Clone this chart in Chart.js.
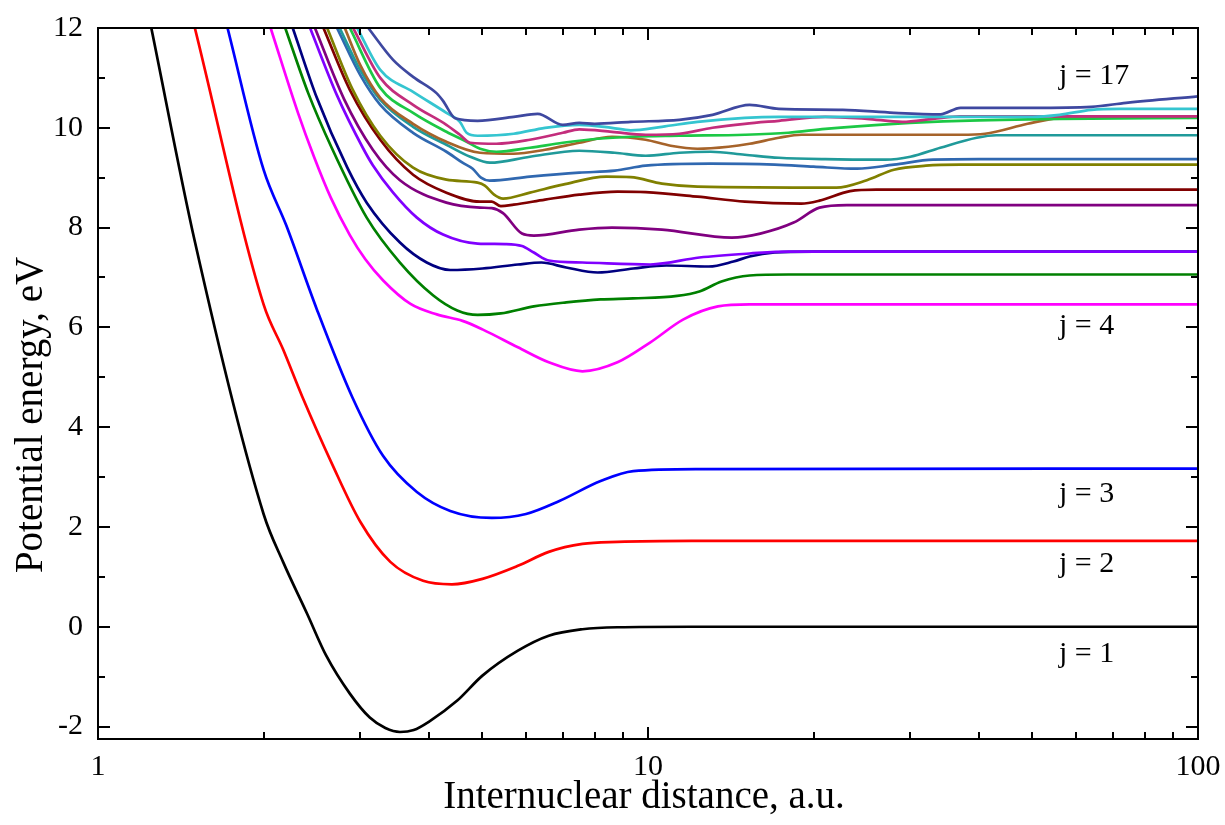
<!DOCTYPE html>
<html>
<head>
<meta charset="utf-8">
<title>Potential energy curves</title>
<script src="https://cdn.jsdelivr.net/npm/chart.js@4.4.1/dist/chart.umd.min.js"></script>
<style>
  html, body { margin: 0; padding: 0; background: #ffffff; }
  #wrap { width: 1225px; height: 825px; }
</style>
</head>
<body>
<div id="wrap"><canvas id="chart" width="1225" height="825"></canvas></div>
<script>
// Potential energy (eV) versus internuclear distance (a.u.), one curve per state j.
// Each curve is a list of [distance, energy] pairs.
const j1 = [[1.25,12],[1.5,7.72],[2.0,2.26],[2.17,1.3],[2.4,0.26],[2.6,-0.58],[2.87,-1.34],[3.12,-1.82],[3.33,-2.03],[3.54,-2.11],[3.75,-2.07],[4.0,-1.9],[4.5,-1.48],[5.0,-0.98],[5.8,-0.48],[6.6,-0.18],[7.6,-0.05],[8.8,-0.01],[12,0],[100,0]];
const j2 = [[1.5,12],[2.0,6.46],[2.17,5.56],[2.35,4.62],[2.67,3.24],[3.0,2.1],[3.4,1.3],[3.9,0.92],[4.4,0.85],[5.0,0.96],[5.8,1.22],[6.6,1.5],[7.6,1.66],[8.8,1.7],[12,1.72],[100,1.72]];
const j3 = [[1.72,12],[2.0,9.16],[2.2,8.04],[2.5,6.36],[2.9,4.6],[3.3,3.42],[3.8,2.7],[4.37,2.32],[5.2,2.18],[6.0,2.26],[6.9,2.52],[8.2,2.92],[9.4,3.12],[12.4,3.16],[100,3.17]];
const j4 = [[2.06,12],[2.31,10.3],[2.47,9.42],[2.65,8.6],[2.87,7.85],[3.06,7.37],[3.3,6.94],[3.7,6.47],[4.13,6.26],[4.6,6.13],[5.0,5.96],[5.8,5.6],[6.6,5.3],[7.6,5.12],[8.8,5.3],[10.1,5.7],[11.6,6.16],[13.4,6.42],[15.3,6.46],[100,6.46]];
const j5 = [[2.19,12],[2.41,10.7],[2.66,9.6],[3.08,8.2],[3.54,7.3],[4.07,6.64],[4.5,6.34],[4.9,6.25],[5.4,6.28],[6.2,6.42],[7.1,6.5],[8.2,6.56],[9.4,6.58],[11.3,6.63],[12.4,6.72],[13.6,6.92],[15.3,7.04],[18,7.06],[100,7.06]];
const j6 = [[2.26,12],[2.5,10.6],[2.84,9.2],[3.08,8.5],[3.54,7.7],[3.96,7.3],[4.37,7.15],[5.0,7.18],[5.8,7.26],[6.4,7.3],[7.1,7.2],[8.1,7.1],[9.4,7.18],[10.8,7.24],[12.9,7.22],[14.3,7.32],[15.3,7.42],[17,7.5],[20,7.52],[100,7.52]];
const j7 = [[2.43,12],[2.72,10.65],[3.03,9.6],[3.16,9.25],[3.44,8.7],[3.8,8.2],[4.24,7.86],[4.9,7.68],[5.5,7.67],[5.9,7.63],[6.2,7.5],[6.6,7.34],[7.6,7.3],[10.1,7.26],[12.4,7.4],[15.3,7.48],[18,7.52],[100,7.52]];
const j8 = [[2.48,12],[2.8,10.58],[3.16,9.56],[3.54,8.95],[4.3,8.5],[4.95,8.4],[5.2,8.39],[5.45,8.29],[5.9,7.88],[6.2,7.84],[7.5,7.96],[8.6,8.0],[10.6,7.96],[14.2,7.8],[16,7.88],[18.4,8.1],[20.5,8.4],[23,8.45],[100,8.45]];
const j9 = [[2.57,12],[2.87,10.76],[3.26,9.76],[3.74,9.06],[4.3,8.7],[4.95,8.52],[5.2,8.52],[5.4,8.43],[5.7,8.46],[6.5,8.56],[7.5,8.66],[8.8,8.72],[9.9,8.71],[12.3,8.62],[15,8.52],[19,8.48],[20.5,8.54],[23.3,8.73],[26,8.76],[100,8.76]];
const j10 = [[2.61,12],[2.9,10.78],[3.26,9.84],[3.74,9.2],[4.3,8.96],[4.9,8.9],[5.05,8.84],[5.25,8.66],[5.45,8.58],[6.1,8.7],[7.0,8.86],[8.4,9.02],[9.3,9.01],[10.6,8.88],[12.3,8.82],[22,8.8],[25,8.95],[28,9.16],[32,9.24],[37,9.26],[100,9.26]];
const j11 = [[2.72,12],[3.0,11.05],[3.26,10.46],[3.74,9.9],[4.3,9.52],[4.6,9.3],[4.8,9.18],[4.97,9.0],[5.15,8.94],[6.1,9.02],[7.5,9.1],[8.7,9.14],[9.9,9.24],[13,9.28],[17,9.26],[20,9.22],[24,9.18],[28,9.26],[33,9.36],[40,9.37],[100,9.37]];
const j12 = [[2.75,12],[3.0,11.15],[3.26,10.56],[3.74,10.02],[4.3,9.66],[4.75,9.42],[5.16,9.3],[6.1,9.42],[7.5,9.54],[8.7,9.5],[9.9,9.44],[11.4,9.5],[13,9.52],[15,9.46],[17.3,9.4],[21,9.37],[27,9.36],[30,9.42],[34,9.6],[39.6,9.8],[43,9.85],[100,9.85]];
const j13 = [[2.81,12],[3.0,11.25],[3.26,10.6],[3.74,10.08],[4.3,9.72],[4.95,9.5],[5.7,9.48],[6.5,9.56],[7.5,9.7],[8.6,9.82],[9.9,9.76],[11,9.64],[12.3,9.58],[14,9.62],[15.3,9.68],[17.3,9.8],[19,9.86],[37,9.86],[41,9.88],[49,10.08],[56,10.2],[65,10.22],[100,10.22]];
const j14 = [[2.87,12],[3.26,10.8],[3.74,10.3],[4.3,9.92],[4.68,9.72],[4.95,9.58],[5.3,9.52],[6.1,9.6],[7.0,9.7],[8.1,9.78],[9.3,9.82],[11.4,9.84],[15,9.86],[18,9.9],[21,9.98],[28,10.08],[37,10.14],[56,10.18],[100,10.2]];
const j15 = [[2.91,12],[3.26,11.0],[3.74,10.46],[4.3,10.06],[4.55,9.86],[4.75,9.7],[5.3,9.68],[6.1,9.76],[7.0,9.9],[7.5,9.97],[8.6,9.92],[9.9,9.86],[11.4,9.88],[13.1,10.0],[15,10.08],[17.3,10.14],[21,10.22],[25,10.18],[29,10.12],[33,10.18],[37,10.23],[100,10.23]];
const j16 = [[2.96,12],[3.26,11.16],[3.74,10.72],[4.3,10.3],[4.55,10.12],[4.68,9.9],[4.9,9.84],[5.7,9.88],[6.5,10.0],[7.5,10.06],[8.6,10.0],[9.3,9.95],[10.6,10.02],[12.3,10.12],[15,10.2],[17.3,10.22],[50,10.22],[56,10.26],[64,10.36],[72,10.38],[100,10.38]];
const j17 = [[3.1,12],[3.44,11.36],[3.74,11.02],[4.13,10.69],[4.24,10.54],[4.46,10.19],[4.9,10.14],[5.7,10.22],[6.3,10.28],[7.0,10.06],[7.5,10.1],[8.0,10.08],[9.3,10.12],[11.4,10.16],[13.1,10.26],[15.3,10.46],[17.3,10.38],[22.6,10.36],[28,10.3],[34,10.27],[37,10.4],[50,10.4],[64,10.42],[74,10.5],[100,10.63]];

const curves = [j1, j2, j3, j4, j5, j6, j7, j8, j9, j10, j11, j12, j13, j14, j15, j16, j17];
const curveNames = ['j = 1','j = 2','j = 3','j = 4','j = 5','j = 6','j = 7','j = 8','j = 9','j = 10','j = 11','j = 12','j = 13','j = 14','j = 15','j = 16','j = 17'];
const curveColors = ['#000000','#ff0000','#0000ff','#ff00ff','#008000','#000080','#8000ff','#800080','#800000','#808000',
                     '#3068b0','#209a9a','#a6632a','#1cc845','#c32d7c','#35c5d0','#3e48a0'];

// Axis ticks
const xTickValues = [1, 10, 100];
const yTickValues = [-2, 0, 2, 4, 6, 8, 10, 12];

// Curve captions on the right-hand side
const noteTexts = ['j = 17', 'j = 4', 'j = 3', 'j = 2', 'j = 1'];

const SERIF = "'Liberation Serif', 'Times New Roman', Times, serif";

// Frame, inward tick marks on all four sides, captions and axis titles
const framePlugin = {
  id: 'frame',
  afterDraw(chart) {
    const { ctx, chartArea: a, scales: { x, y } } = chart;
    ctx.save();
    ctx.strokeStyle = '#000';
    ctx.lineWidth = 2;
    ctx.beginPath();
    // vertical axis ticks, major every 2 eV, minor in between
    for (let v = Math.ceil(y.min); v <= y.max; v++) {
      const py = Math.round(y.getPixelForValue(v));
      const len = v % 2 === 0 ? 12 : 7;
      ctx.moveTo(a.left, py); ctx.lineTo(a.left + len, py);
      ctx.moveTo(a.right, py); ctx.lineTo(a.right - len, py);
    }
    // logarithmic axis ticks, major at decades
    for (const dec of [1, 10]) {
      for (let m = 1; m <= 10; m++) {
        const v = dec * m;
        if (v <= x.min || v >= x.max) continue;
        const px = Math.round(x.getPixelForValue(v));
        const len = m === 1 || m === 10 ? 12 : 7;
        ctx.moveTo(px, a.bottom); ctx.lineTo(px, a.bottom - len);
        ctx.moveTo(px, a.top); ctx.lineTo(px, a.top + len);
      }
    }
    ctx.stroke();
    ctx.strokeRect(a.left, a.top, a.right - a.left, a.bottom - a.top);

    // captions
    ctx.fillStyle = '#000';
    ctx.font = '30px ' + SERIF;
    ctx.textAlign = 'left';
    ctx.textBaseline = 'alphabetic';
    const noteBaselines = [84, 334, 502, 572, 662];
    noteTexts.forEach((t, i) => ctx.fillText(t, a.right - 139, noteBaselines[i]));

    // axis titles
    ctx.font = '39px ' + SERIF;
    ctx.textAlign = 'center';
    ctx.fillText('Internuclear distance, a.u.', (a.left + a.right) / 2 - 4, 808);
    ctx.translate(42, 415);
    ctx.rotate(-Math.PI / 2);
    ctx.fillText('Potential energy, eV', 0, 0);
    ctx.restore();
  }
};

const n = curves.length;
new Chart(document.getElementById('chart').getContext('2d'), {
  type: 'line',
  data: {
    datasets: curves.map((pts, i) => ({
      label: curveNames[i],
      data: pts.map(([r, e]) => ({ x: r, y: e })),
      borderColor: curveColors[i],
      backgroundColor: curveColors[i],
      borderWidth: 2.7,
      pointRadius: 0,
      pointHoverRadius: 0,
      cubicInterpolationMode: 'monotone',
      fill: false,
      order: n - i
    }))
  },
  options: {
    responsive: false,
    animation: false,
    devicePixelRatio: 1,
    events: [],
    layout: { padding: { top: 28, right: 27, left: 0, bottom: 0 } },
    plugins: { legend: { display: false }, tooltip: { enabled: false }, title: { display: false } },
    scales: {
      x: {
        type: 'logarithmic',
        min: 1, max: 100,
        grid: { display: false, drawTicks: false },
        border: { display: false },
        afterBuildTicks: s => { s.ticks = xTickValues.map(v => ({ value: v })); },
        afterFit: s => { s.height = 86; s.paddingLeft = 0; s.paddingRight = 0; },
        ticks: {
          font: { family: SERIF, size: 30 }, color: '#000',
          padding: 10, maxRotation: 0, minRotation: 0, autoSkip: false,
          callback: v => String(v)
        }
      },
      y: {
        type: 'linear',
        min: -2.25, max: 12,
        grid: { display: false, drawTicks: false },
        border: { display: false },
        afterBuildTicks: s => { s.ticks = yTickValues.map(v => ({ value: v })); },
        afterFit: s => { s.width = 98; s.paddingTop = 0; s.paddingBottom = 0; },
        ticks: {
          font: { family: SERIF, size: 30 }, color: '#000',
          padding: 15, autoSkip: false,
          callback: v => String(v)
        }
      }
    }
  },
  plugins: [framePlugin]
});
</script>
</body>
</html>
